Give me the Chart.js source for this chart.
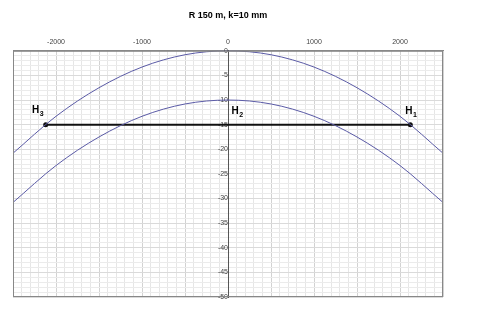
<!DOCTYPE html>
<html>
<head>
<meta charset="utf-8">
<script src="https://cdn.jsdelivr.net/npm/chart.js@4.4.1/dist/chart.umd.min.js"></script>
<style>
  html, body { margin: 0; padding: 0; background: #fff; }
  #wrap { width: 500px; height: 311px; }
</style>
</head>
<body>
<div id="wrap"><canvas id="myChart" width="500" height="311"></canvas></div>
<script>
// Werte
const xValues = [-2500, -2000, -1500, -1000, -500, 0, 500, 1000, 1500, 2000, 2500];
const upperCurve = [-20.8, -13.3, -7.5, -3.3, -0.8, 0, -0.8, -3.3, -7.5, -13.3, -20.8];
const lowerCurve = [-30.8, -23.3, -17.5, -13.3, -10.8, -10, -10.8, -13.3, -17.5, -23.3, -30.8];
const hLineX = [-2120, 2120];
const hLineY = [-15, -15];
// Beschriftungen H1..H3 (Position in Datenwerten)
const hLabels = [
    { sub: '3', x: -2280, y: -12.7 },
    { sub: '2', x: 40, y: -12.9 },
    { sub: '1', x: 2060, y: -12.8 }
];

function toPoints(xs, ys) {
    return xs.map((x, i) => ({ x: x, y: ys[i] }));
}

// Rahmen und H-Beschriftungen
const extras = {
    id: 'extras',
    afterDraw(chart) {
        const c = chart.ctx;
        const a = chart.chartArea;
        const sx = chart.scales.x, sy = chart.scales.y;
        c.save();
        c.strokeStyle = '#888';
        c.lineWidth = 1;
        c.strokeRect(a.left + 0.5, a.top + 0.5, a.right - a.left - 1, a.bottom - a.top - 1);
        c.fillStyle = '#000';
        hLabels.forEach(l => {
            const px = sx.getPixelForValue(l.x);
            const py = sy.getPixelForValue(l.y);
            c.font = 'bold 10px Arial, "Liberation Sans", sans-serif';
            c.textBaseline = 'alphabetic';
            c.fillText('H', px, py);
            const w = c.measureText('H').width;
            c.font = 'bold 7px Arial, "Liberation Sans", sans-serif';
            c.fillText(l.sub, px + w + 0.5, py + 3);
        });
        c.restore();
    }
};

const ctx = document.getElementById('myChart').getContext('2d');
const myChart = new Chart(ctx, {
    type: 'scatter',
    data: {
        datasets: [{
            label: 'k=0',
            data: toPoints(xValues, upperCurve),
            showLine: true,
            borderColor: '#5b5ba6',
            borderWidth: 1,
            pointRadius: 0,
            cubicInterpolationMode: 'monotone'
        }, {
            label: 'k=10',
            data: toPoints(xValues, lowerCurve),
            showLine: true,
            borderColor: '#5b5ba6',
            borderWidth: 1,
            pointRadius: 0,
            cubicInterpolationMode: 'monotone'
        }, {
            label: 'H',
            data: toPoints(hLineX, hLineY),
            showLine: true,
            borderColor: '#111',
            backgroundColor: '#111',
            borderWidth: 2,
            pointRadius: 1.5
        }]
    },
    options: {
        responsive: false,
        animation: false,
        layout: { padding: { left: 13, right: 57, bottom: 14, top: 0 } },
        plugins: {
            legend: { display: false },
            tooltip: { enabled: false },
            title: {
                display: true,
                text: 'R 150 m, k=10 mm',
                color: '#000',
                font: { family: 'Arial, "Liberation Sans", sans-serif', size: 9, weight: 'bold' },
                padding: { top: 10, bottom: 0 }
            }
        },
        scales: {
            x: {
                type: 'linear',
                position: 'top',
                min: -2500,
                max: 2500,
                afterFit(scale) { scale.height = 30; },
                ticks: {
                    stepSize: 100,
                    autoSkip: false,
                    maxRotation: 0,
                    padding: 5,
                    color: '#444',
                    font: { family: 'Arial, "Liberation Sans", sans-serif', size: 7 },
                    callback: v => (v % 1000 === 0 ? String(v) : '')
                },
                grid: {
                    color: c => (c.tick && c.tick.value % 500 === 0 ? '#d2d2d2' : '#e6e6e6'),
                    tickLength: 3,
                    drawTicks: false
                },
                border: { display: true, color: '#888' }
            },
            y: {
                type: 'linear',
                position: { x: 0 },
                min: -50,
                max: 0,
                ticks: {
                    stepSize: 1,
                    autoSkip: false,
                    padding: 5,
                    color: '#444',
                    font: { family: 'Arial, "Liberation Sans", sans-serif', size: 7 },
                    callback: v => (v % 5 === 0 ? String(v) : '')
                },
                grid: {
                    color: c => (c.tick && c.tick.value % 5 === 0 ? '#dadada' : '#ebebeb'),
                    tickLength: 3,
                    drawTicks: true
                },
                border: { display: true, color: '#555' }
            }
        }
    },
    plugins: [extras]
});
</script>
</body>
</html>
